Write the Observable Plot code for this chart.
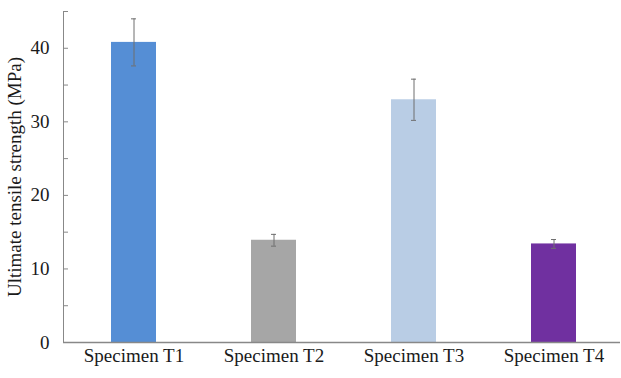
<!DOCTYPE html>
<html>
<head>
<meta charset="utf-8">
<script src="https://cdn.jsdelivr.net/npm/d3@7"></script>
<script src="https://cdn.jsdelivr.net/npm/@observablehq/plot@0.6"></script>
<style>
  html, body { margin: 0; padding: 0; background: #fff; }
  #chart svg { display: block; }
  #chart svg, #chart svg text { font-family: "Liberation Serif", "Times New Roman", serif !important; }
</style>
</head>
<body>
<div id="chart"></div>
<script>
const categories = ["Specimen T1", "Specimen T2", "Specimen T3", "Specimen T4"];
const values = [40.8, 13.9, 33.0, 13.4];
const errors = [3.2, 0.8, 2.8, 0.6];
const colors = ["#558ed5", "#a6a6a6", "#b9cde5", "#7030a0"];
const yTickLabels = [0, 10, 20, 30, 40];
const yTickMarks = [0, 5, 10, 15, 20, 25, 30, 35, 40, 45];
const yLabel = "Ultimate tensile strength (MPa)";

const data = categories.map((c, i) => ({cat: c, v: values[i], e: errors[i], color: colors[i]}));

const chart = Plot.plot({
  width: 621,
  height: 378,
  marginLeft: 63,
  marginRight: 1,
  marginTop: 11,
  marginBottom: 36,
  style: {fontSize: "19px", color: "#1a1a1a", background: "#fff"},
  x: {domain: categories, range: [63, 623], paddingInner: 0.68, paddingOuter: 0.34, align: 0.5},
  y: {domain: [0, 45]},
  marks: [
    Plot.barY(data, {x: "cat", y: "v", fill: "color"}),
    Plot.ruleX(data, {x: "cat", y1: d => d.v - d.e, y2: d => d.v + d.e, stroke: "#6f6f6f", strokeWidth: 1}),
    Plot.tickY(data, {x: "cat", y: d => d.v + d.e, stroke: "#6f6f6f", insetLeft: 20, insetRight: 20}),
    Plot.tickY(data, {x: "cat", y: d => d.v - d.e, stroke: "#6f6f6f", insetLeft: 20, insetRight: 20}),
    Plot.frame({anchor: "left", stroke: "#888888"}),
    Plot.ruleY([0], {stroke: "#888888", strokeWidth: 1.3}),
    Plot.axisY({ticks: yTickMarks, tickSize: -5, text: null, stroke: "#888888", label: null}),
    Plot.axisY({ticks: yTickLabels, tickSize: 0, tickPadding: 14, label: null, fontSize: 19, fill: "#1a1a1a"}),
    Plot.axisX({tickSize: 0, tickPadding: 6, label: null, fontSize: 19, fill: "#1a1a1a"}),
    Plot.text([yLabel], {frameAnchor: "left", textAnchor: "middle", dx: -49, rotate: -90, fontSize: 19, fill: "#1a1a1a"})
  ]
});
document.getElementById("chart").appendChild(chart);
</script>
</body>
</html>
